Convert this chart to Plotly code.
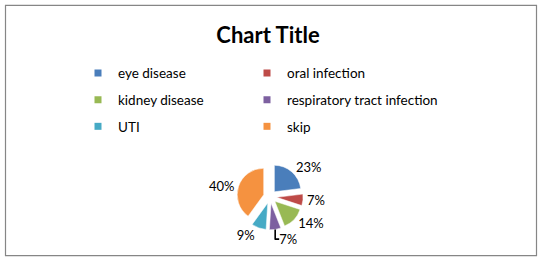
import plotly.graph_objects as go

categories = ["eye disease", "oral infection", "kidney disease",
              "respiratory tract infection", "UTI", "skip"]
percent_values = [23, 7, 14, 7, 9, 40]
slice_colors = ["#4A7EBB", "#BE4B48", "#98B954", "#7D60A0", "#46AAC5", "#F59240"]
legend_rows = ["legend", "legend", "legend2", "legend2", "legend3", "legend3"]

W, H = 542, 265
FONT = "Lato"

fig = go.Figure()

D = 67.0
cx, cy = 270.0, 199.0
fig.add_trace(go.Pie(
    labels=categories,
    values=percent_values,
    sort=False,
    direction="clockwise",
    rotation=0,
    pull=[0.25] * len(categories),
    marker=dict(colors=slice_colors, line=dict(color="white", width=0.5)),
    textposition="outside",
    texttemplate="%{percent:.0%}",
    textfont=dict(family=FONT, size=13, color="#000000"),
    showlegend=False,
    hoverinfo="label+percent",
    domain=dict(x=[(cx - D / 2) / W, (cx + D / 2) / W],
                y=[1 - (cy + D / 2) / H, 1 - (cy - D / 2) / H]),
))

for name, col, lg in zip(categories, slice_colors, legend_rows):
    extra = {"legendwidth": 180} if name == "respiratory tract infection" else {}
    fig.add_trace(go.Scatter(
        x=[None], y=[None], mode="markers", name=name,
        marker=dict(symbol="square", size=7, color=col),
        legend=lg, hoverinfo="skip", **extra,
    ))

leg_common = dict(orientation="h", entrywidth=124, entrywidthmode="pixels",
                  xanchor="left", yanchor="middle", bgcolor="rgba(0,0,0,0)",
                  font=dict(family=FONT, size=13.5, color="#000000"),
                  itemclick=False, itemdoubleclick=False)

fig.update_layout(
    width=W, height=H,
    margin=dict(l=0, r=0, t=0, b=0),
    paper_bgcolor="white", plot_bgcolor="white",
    title=dict(text="<b>Chart Title</b>", x=268 / W, xanchor="center",
               y=1 - 35 / H, yanchor="middle",
               font=dict(family=FONT, size=22, color="#000000")),
    xaxis=dict(visible=False), yaxis=dict(visible=False),
    legend=dict(x=78 / W, y=1 - 74 / H, **leg_common),
    legend2=dict(x=78 / W, y=1 - 101 / H, **leg_common),
    legend3=dict(x=78 / W, y=1 - 128 / H, **leg_common),
    shapes=[dict(type="rect", xref="paper", yref="paper",
                 x0=5.5 / W, x1=536.5 / W, y0=1 - 258.5 / H, y1=1 - 5.5 / H,
                 line=dict(color="#868686", width=1.2), layer="below")],
)

fig.write_html("out.html")
